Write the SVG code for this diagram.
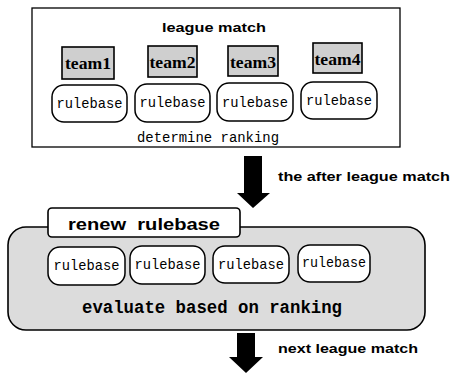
<svg xmlns="http://www.w3.org/2000/svg" width="453" height="374" viewBox="0 0 453 374">
<style>
.ln{fill:none;stroke:#000;stroke-width:1.3}
.team{fill:#cfcfcf;stroke:#000;stroke-width:1.6}
.rb{fill:#fff;stroke:#000;stroke-width:1.5}
.mono{font-family:"Liberation Mono","DejaVu Sans Mono",monospace;fill:#000}
.serif{font-family:"Liberation Serif","DejaVu Serif",serif;fill:#000}
.sans{font-family:"Liberation Sans","DejaVu Sans",sans-serif;font-weight:bold;fill:#000}
.rbt{font-family:"Liberation Mono","DejaVu Sans Mono",monospace;font-size:15px;fill:#000;text-anchor:middle}
.arrow{fill:#000}
</style>
<rect width="453" height="374" fill="#fff"/>
<g id="league-match">
  <rect x="32" y="8" width="368" height="139" class="ln"/>
  <text x="214" y="32" class="sans" font-size="13" text-anchor="middle" textLength="104" lengthAdjust="spacingAndGlyphs">league match</text>
  <text x="208" y="142" class="mono" font-size="14" text-anchor="middle" textLength="142" lengthAdjust="spacingAndGlyphs">determine ranking</text>
</g>
<g id="team1">
  <rect x="62" y="47" width="52" height="32" class="team"/>
  <text x="88" y="69" class="serif" font-size="17" font-weight="bold" text-anchor="middle" textLength="46" lengthAdjust="spacingAndGlyphs">team1</text>
</g>
<g id="team2">
  <rect x="148" y="46" width="49" height="31" class="team"/>
  <text x="172.5" y="68" class="serif" font-size="17" font-weight="bold" text-anchor="middle" textLength="46" lengthAdjust="spacingAndGlyphs">team2</text>
</g>
<g id="team3">
  <rect x="228" y="46" width="50" height="30" class="team"/>
  <text x="253" y="68" class="serif" font-size="17" font-weight="bold" text-anchor="middle" textLength="46" lengthAdjust="spacingAndGlyphs">team3</text>
</g>
<g id="team4">
  <rect x="313" y="43" width="49" height="30" class="team"/>
  <text x="337.5" y="65" class="serif" font-size="17" font-weight="bold" text-anchor="middle" textLength="46" lengthAdjust="spacingAndGlyphs">team4</text>
</g>
<g id="rulebase1">
  <rect x="52" y="85" width="75" height="37" rx="12" class="rb"/>
  <text x="89.5" y="108" class="rbt" textLength="66" lengthAdjust="spacingAndGlyphs">rulebase</text>
</g>
<g id="rulebase2">
  <rect x="135" y="84" width="75" height="38" rx="12" class="rb"/>
  <text x="172.5" y="107" class="rbt" textLength="66" lengthAdjust="spacingAndGlyphs">rulebase</text>
</g>
<g id="rulebase3">
  <rect x="217" y="83" width="76" height="38" rx="12" class="rb"/>
  <text x="255" y="107" class="rbt" textLength="66" lengthAdjust="spacingAndGlyphs">rulebase</text>
</g>
<g id="rulebase4">
  <rect x="301" y="82" width="76" height="37" rx="12" class="rb"/>
  <text x="339" y="105" class="rbt" textLength="66" lengthAdjust="spacingAndGlyphs">rulebase</text>
</g>
<g id="renew">
  <rect x="8" y="227" width="417" height="103" rx="18" fill="#dcdcdc" stroke="#000" stroke-width="1.6"/>
  <rect x="48" y="208" width="192" height="29" rx="4" fill="#fff" stroke="#000" stroke-width="1.6"/>
  <text x="144" y="230" class="sans" font-size="17" text-anchor="middle" style="white-space:pre" xml:space="preserve" textLength="152" lengthAdjust="spacingAndGlyphs">renew  rulebase</text>
  <text x="212" y="313" class="mono" font-size="17.5" font-weight="bold" text-anchor="middle" textLength="260" lengthAdjust="spacingAndGlyphs">evaluate based on ranking</text>
</g>
<g id="rulebase5">
  <rect x="48" y="247" width="77" height="38" rx="12" class="rb"/>
  <text x="86.5" y="270" class="rbt" textLength="66" lengthAdjust="spacingAndGlyphs">rulebase</text>
</g>
<g id="rulebase6">
  <rect x="130" y="246" width="75" height="38" rx="12" class="rb"/>
  <text x="167.5" y="269" class="rbt" textLength="66" lengthAdjust="spacingAndGlyphs">rulebase</text>
</g>
<g id="rulebase7">
  <rect x="213" y="246" width="76" height="37" rx="12" class="rb"/>
  <text x="251" y="269" class="rbt" textLength="66" lengthAdjust="spacingAndGlyphs">rulebase</text>
</g>
<g id="rulebase8">
  <rect x="298" y="245" width="72" height="37" rx="12" class="rb"/>
  <text x="334" y="267" class="rbt" textLength="64" lengthAdjust="spacingAndGlyphs">rulebase</text>
</g>
<g id="connectors">
  <polygon class="arrow" points="244,156 262,156 262,193 270,193 253,208 237,193 244,193"/>
  <text x="278" y="181" class="sans" font-size="13" textLength="172" lengthAdjust="spacingAndGlyphs">the after league match</text>
  <polygon class="arrow" points="237,333 255,333 255,357 263,357 246,373 229,357 237,357"/>
  <text x="278" y="353" class="sans" font-size="13" textLength="140" lengthAdjust="spacingAndGlyphs">next league match</text>
</g>
</svg>
